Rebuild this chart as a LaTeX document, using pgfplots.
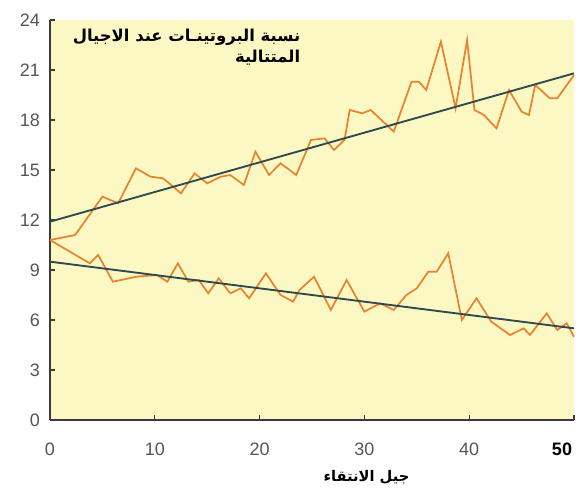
\documentclass[border=0pt]{standalone}
\usepackage{pgfplots}
\pgfplotsset{compat=1.18}
\usepackage{fontspec}
\setmainfont{Liberation Sans}
\newfontfamily\arabicfont[Script=Arabic]{DejaVu Sans}
\TeXXeTstate=1
\definecolor{bgy}{HTML}{FBF8C4}
\definecolor{axisgray}{HTML}{3A3A3A}
\definecolor{labgray}{HTML}{555555}
\definecolor{orangeline}{HTML}{E8842E}
\definecolor{trend}{HTML}{2E4A50}
\begin{document}
\begin{tikzpicture}
\path[use as bounding box] (-37.5pt,-52.5pt) rectangle (400.5pt,315pt);
\begin{axis}[
  scale only axis, width=393pt, height=300pt,
  xmin=0, xmax=50, ymin=0, ymax=24,
  axis x line*=bottom, axis y line*=left,
  axis line style={-, draw=axisgray, line width=1.2pt},
  tick align=inside, major tick length=4pt,
  tick style={draw=axisgray, line width=0.9pt},
  xtick={0,10,20,30,40}, ytick={0,3,...,24},
  extra x ticks={50}, extra x tick labels={\textbf{50}},
  extra x tick style={xticklabel style={text=black, xshift=-9pt}},
  ticklabel style={font=\fontsize{13.5}{16}\selectfont, text=labgray},
  xticklabel style={yshift=-14pt},
  yticklabel style={xshift=-4pt},
  /pgf/number format/assume math mode=true,
  axis background/.style={fill=bgy},
  clip=false,
]
% upper series
\addplot[orangeline, line width=1.3pt] coordinates {
(0,10.8) (2.4,11.1) (5,13.4) (6.5,13.0) (8.2,15.1) (9.6,14.6) (10.8,14.5)
(12.5,13.6) (13.8,14.8) (15,14.2) (16.3,14.6) (17.2,14.7) (18.5,14.1)
(19.6,16.1) (20.9,14.7) (22,15.4) (23.5,14.7) (24.9,16.8) (26.2,16.9)
(27.1,16.2) (28.1,16.8) (28.6,18.6) (29.8,18.4) (30.6,18.6) (32.8,17.3)
(34.5,20.3) (35.2,20.3) (35.9,19.8) (37.3,22.7) (38.7,18.7) (39.8,22.8)
(40.5,18.6) (41.4,18.3) (42.6,17.5) (43.8,19.8) (45,18.5) (45.7,18.3)
(46.3,20.1) (47.7,19.3) (48.4,19.3) (50,20.7)
};
% lower series
\addplot[orangeline, line width=1.3pt] coordinates {
(0,10.8) (3.8,9.4) (4.6,9.9) (6.0,8.3) (8.3,8.6) (10.2,8.7) (11.2,8.3)
(12.2,9.4) (13.2,8.3) (14.2,8.4) (15.1,7.6) (16.1,8.5) (17.2,7.6) (18.2,7.9)
(19.0,7.3) (20.6,8.8) (22.0,7.5) (23.2,7.1) (23.8,7.8) (25.2,8.6) (26.8,6.6)
(28.3,8.4) (30.0,6.5) (31.5,7.0) (32.8,6.6) (34.0,7.5) (35.0,7.9) (36.1,8.9)
(36.9,8.9) (38.0,10.0) (39.3,6.0) (40.7,7.3) (42.1,5.9) (43.9,5.1) (45.2,5.5)
(45.8,5.1) (47.4,6.4) (48.4,5.4) (49.3,5.8) (50,5.0)
};
% trend lines
\addplot[trend, line width=1.4pt] coordinates {(0,11.9) (50,20.8)};
\addplot[trend, line width=1.4pt] coordinates {(0,9.5) (50,5.5)};
% title
\node[anchor=north east, align=right, inner sep=0pt, font=\arabicfont\bfseries\fontsize{12.3}{16}\selectfont]
  at (axis cs:23.9,23.5) {\beginR نسبة البروتينـات عند الاجيال\endR\\ \beginR المتتالية\endR};
% x label
\node[anchor=center, inner sep=0pt, font=\arabicfont\bfseries\fontsize{11}{14}\selectfont]
  at (axis cs:30.2,0) [yshift=-43pt] {\beginR جيل الانتقاء\endR};
\end{axis}
\end{tikzpicture}
\end{document}
